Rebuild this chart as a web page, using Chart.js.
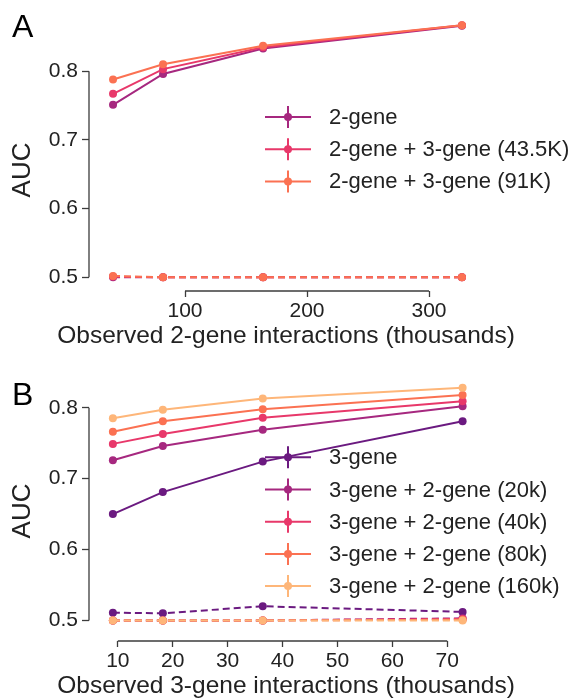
<!DOCTYPE html>
<html lang="en">
<head>
    <meta charset="UTF-8">
    <title>AUC vs observed gene interactions</title>
    <script src="https://cdn.jsdelivr.net/npm/chart.js"></script>
    <style>
        html, body { margin: 0; padding: 0; background: #fff; }
        .panel { position: absolute; left: 0; width: 577px; height: 350px; }
        #panelA { top: 0; }
        #panelB { top: 350px; }
    </style>
</head>
<body>
    <div class="panel" id="panelA"><canvas id="chartA" width="577" height="350"></canvas></div>
    <div class="panel" id="panelB"><canvas id="chartB" width="577" height="350"></canvas></div>

    <script>
        // ---- panel A data (x in thousands of observed 2-gene interactions) ----
        const xA = [41, 82, 164, 327];
        const xTicksA = [100, 200, 300];
        const labelsA = ['2-gene', '2-gene + 3-gene (43.5K)', '2-gene + 3-gene (91K)'];
        const aucA_2gene = [0.751, 0.796, 0.833, 0.866];
        const aucA_43k = [0.767, 0.803, 0.835, 0.867];
        const aucA_91k = [0.788, 0.810, 0.837, 0.867];
        const randA_2gene = [0.500, 0.500, 0.500, 0.500];
        const randA_43k = [0.501, 0.500, 0.500, 0.500];
        const randA_91k = [0.502, 0.500, 0.500, 0.500];

        // ---- panel B data (x in thousands of observed 3-gene interactions) ----
        const xB = [9.1, 18.2, 36.4, 72.8];
        const xTicksB = [10, 20, 30, 40, 50, 60, 70];
        const labelsB = ['3-gene', '3-gene + 2-gene (20k)', '3-gene + 2-gene (40k)', '3-gene + 2-gene (80k)', '3-gene + 2-gene (160k)'];
        const aucB_3gene = [0.650, 0.681, 0.724, 0.781];
        const aucB_20k = [0.726, 0.746, 0.769, 0.802];
        const aucB_40k = [0.749, 0.763, 0.786, 0.809];
        const aucB_80k = [0.766, 0.781, 0.798, 0.818];
        const aucB_160k = [0.785, 0.797, 0.813, 0.828];
        const randB_3gene = [0.511, 0.510, 0.520, 0.512];
        const randB_20k = [0.500, 0.500, 0.500, 0.503];
        const randB_40k = [0.500, 0.500, 0.500, 0.502];
        const randB_80k = [0.500, 0.500, 0.500, 0.501];
        const randB_160k = [0.500, 0.500, 0.500, 0.500];

        const yTicks = [0.5, 0.6, 0.7, 0.8];

        const COLORS = {
            dark: '#6b1a80',
            magenta: '#a6287f',
            pink: '#e8386a',
            orange: '#fb7152',
            light: '#feb679'
        };
        const FONT = '"Liberation Sans", Arial, sans-serif';
        const AXIS_COLOR = '#3c3c3c';
        const TEXT_COLOR = '#222';

        function series(label, xs, ys, color, dashed, order) {
            return {
                label: label,
                data: xs.map((x, i) => ({ x: x, y: ys[i] })),
                borderColor: color,
                backgroundColor: color,
                borderWidth: 2,
                pointRadius: 4,
                pointBorderWidth: 0,
                pointHoverRadius: 4,
                borderDash: dashed ? [7, 4] : [],
                inLegend: !dashed,
                order: order,
                clip: false
            };
        }

        // trimmed spines, panel letter, axis titles and errorbar-style legend
        const panelDecor = {
            id: 'panelDecor',
            afterDraw(chart, args, opts) {
                const ctx = chart.ctx;
                const xs = chart.scales.x, ys = chart.scales.y;
                const area = chart.chartArea;
                ctx.save();

                ctx.strokeStyle = AXIS_COLOR;
                ctx.lineWidth = 1.3;
                ctx.beginPath();
                ctx.moveTo(area.left, ys.getPixelForValue(ys.ticks[0].value));
                ctx.lineTo(area.left, ys.getPixelForValue(ys.ticks[ys.ticks.length - 1].value));
                ctx.moveTo(xs.getPixelForValue(xs.ticks[0].value), area.bottom);
                ctx.lineTo(xs.getPixelForValue(xs.ticks[xs.ticks.length - 1].value), area.bottom);
                ctx.stroke();

                ctx.fillStyle = '#000';
                ctx.font = '32px ' + FONT;
                ctx.textAlign = 'left';
                ctx.textBaseline = 'alphabetic';
                ctx.fillText(opts.letter, 12, opts.letterY);

                // x title, centred on the plot area
                ctx.fillStyle = TEXT_COLOR;
                ctx.font = '24.5px ' + FONT;
                ctx.textAlign = 'center';
                ctx.textBaseline = 'middle';
                ctx.fillText(opts.xTitle, opts.xTitleX, opts.xTitleY);

                ctx.save();
                ctx.translate(opts.yTitleX, opts.yTitleY);
                ctx.rotate(-Math.PI / 2);
                ctx.font = '26px ' + FONT;
                ctx.fillText(opts.yTitle, 0, 0);
                ctx.restore();

                const entries = chart.data.datasets.filter(d => d.inLegend);
                entries.forEach((d, i) => {
                    const cy = opts.legendTop + i * opts.legendStep;
                    const cx = opts.legendX;
                    ctx.strokeStyle = d.borderColor;
                    ctx.lineWidth = 2;
                    ctx.beginPath();
                    ctx.moveTo(cx - 23, cy);
                    ctx.lineTo(cx + 23, cy);
                    ctx.moveTo(cx, cy - 11);
                    ctx.lineTo(cx, cy + 11);
                    ctx.stroke();
                    ctx.fillStyle = d.borderColor;
                    ctx.beginPath();
                    ctx.arc(cx, cy, 4, 0, Math.PI * 2);
                    ctx.fill();
                    ctx.fillStyle = TEXT_COLOR;
                    ctx.font = '22px ' + FONT;
                    ctx.textAlign = 'left';
                    ctx.textBaseline = 'middle';
                    ctx.fillText(d.label, cx + 41, cy + 1);
                });
                ctx.restore();
            }
        };

        function makeOptions(xMin, xMax, xTicks, yMin, yMax, decor) {
            return {
                responsive: false,
                animation: false,
                layout: { padding: { top: 10, right: 97, left: 0, bottom: 0 } },
                plugins: {
                    legend: { display: false },
                    tooltip: { enabled: false },
                    panelDecor: decor
                },
                scales: {
                    x: {
                        type: 'linear',
                        min: xMin,
                        max: xMax,
                        afterBuildTicks: s => { s.ticks = xTicks.map(v => ({ value: v })); },
                        afterFit: s => { s.height = 59; },
                        border: { display: false },
                        grid: { drawOnChartArea: false, tickLength: 6, tickColor: AXIS_COLOR, tickWidth: 1.3 },
                        ticks: { color: TEXT_COLOR, font: { family: FONT, size: 21 }, padding: 2, maxRotation: 0 }
                    },
                    y: {
                        type: 'linear',
                        min: yMin,
                        max: yMax,
                        afterBuildTicks: s => { s.ticks = yTicks.map(v => ({ value: v })); },
                        afterFit: s => { s.width = 89; },
                        border: { display: false },
                        grid: { drawOnChartArea: false, tickLength: 7, tickColor: AXIS_COLOR, tickWidth: 1.3 },
                        ticks: { color: TEXT_COLOR, font: { family: FONT, size: 21 }, padding: 4, callback: v => v.toFixed(1) }
                    }
                }
            };
        }

        Chart.register(panelDecor);

        new Chart(document.getElementById('chartA'), {
            type: 'line',
            data: {
                datasets: [
                    series(labelsA[0], xA, aucA_2gene, COLORS.magenta, false, 3),
                    series(labelsA[1], xA, aucA_43k, COLORS.pink, false, 2),
                    series(labelsA[2], xA, aucA_91k, COLORS.orange, false, 1),
                    series(labelsA[0] + ' (random)', xA, randA_2gene, COLORS.magenta, true, 6),
                    series(labelsA[1] + ' (random)', xA, randA_43k, COLORS.pink, true, 5),
                    series(labelsA[2] + ' (random)', xA, randA_91k, COLORS.orange, true, 4)
                ]
            },
            options: makeOptions(21.3, 341.8, xTicksA, 0.480, 0.8795, {
                letter: 'A', letterY: 37,
                xTitle: 'Observed 2-gene interactions (thousands)', xTitleX: 286, xTitleY: 336,
                yTitle: 'AUC', yTitleX: 23, yTitleY: 170,
                legendX: 288, legendTop: 117, legendStep: 32.2
            })
        });

        new Chart(document.getElementById('chartB'), {
            type: 'line',
            data: {
                datasets: [
                    series(labelsB[0], xB, aucB_3gene, COLORS.dark, false, 5),
                    series(labelsB[1], xB, aucB_20k, COLORS.magenta, false, 4),
                    series(labelsB[2], xB, aucB_40k, COLORS.pink, false, 3),
                    series(labelsB[3], xB, aucB_80k, COLORS.orange, false, 2),
                    series(labelsB[4], xB, aucB_160k, COLORS.light, false, 1),
                    series(labelsB[0] + ' (random)', xB, randB_3gene, COLORS.dark, true, 10),
                    series(labelsB[1] + ' (random)', xB, randB_20k, COLORS.magenta, true, 9),
                    series(labelsB[2] + ' (random)', xB, randB_40k, COLORS.pink, true, 8),
                    series(labelsB[3] + ' (random)', xB, randB_80k, COLORS.orange, true, 7),
                    series(labelsB[4] + ' (random)', xB, randB_160k, COLORS.light, true, 6)
                ]
            },
            options: makeOptions(4.75, 75.97, xTicksB, 0.471, 0.858, {
                letter: 'B', letterY: 55,
                xTitle: 'Observed 3-gene interactions (thousands)', xTitleX: 286, xTitleY: 336,
                yTitle: 'AUC', yTitleX: 23, yTitleY: 161,
                legendX: 288, legendTop: 107.3, legendStep: 32.2
            })
        });
    </script>
</body>
</html>
